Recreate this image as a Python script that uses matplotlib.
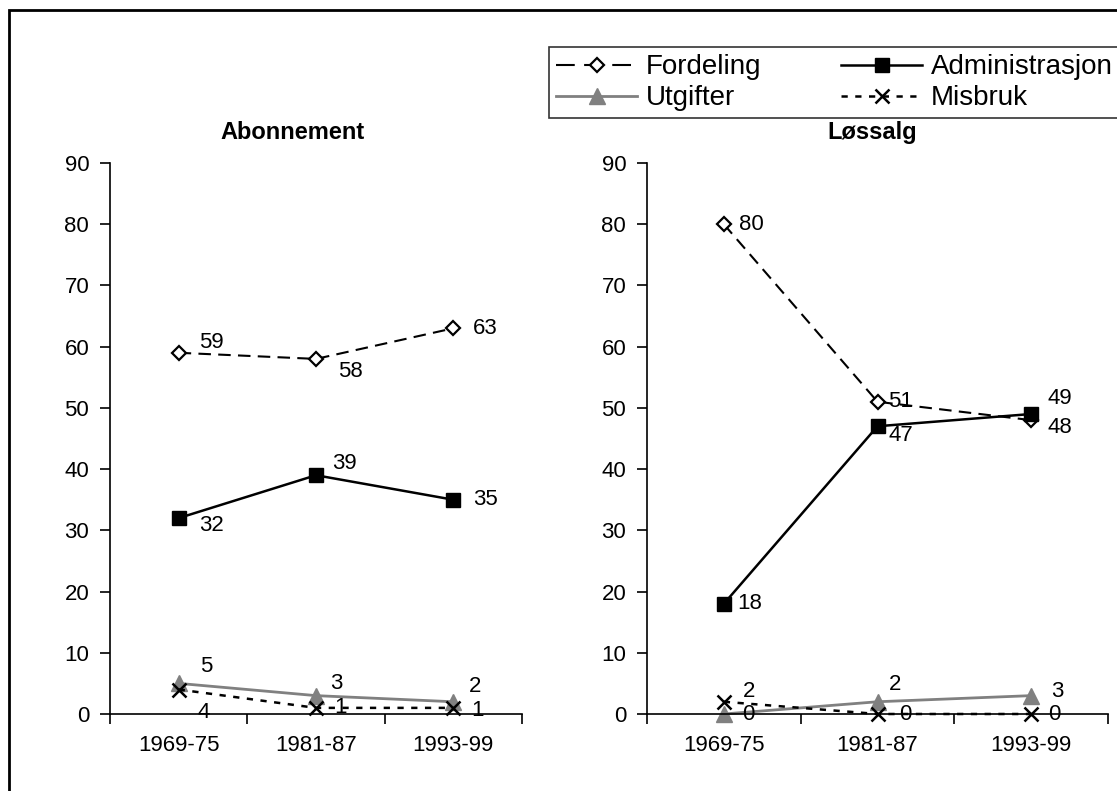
import matplotlib.pyplot as plt
from matplotlib.patches import Rectangle
from matplotlib.lines import Line2D

plt.rcParams['font.family'] = ['Liberation Sans', 'DejaVu Sans']

periods = ['1969-75', '1981-87', '1993-99']
series = ['Fordeling', 'Administrasjon', 'Utgifter', 'Misbruk']

abonnement = {
    'Fordeling': [59, 58, 63],
    'Administrasjon': [32, 39, 35],
    'Utgifter': [5, 3, 2],
    'Misbruk': [4, 1, 1],
}
lossalg = {
    'Fordeling': [80, 51, 48],
    'Administrasjon': [18, 47, 49],
    'Utgifter': [0, 2, 3],
    'Misbruk': [2, 0, 0],
}

# label offsets in pixels (dx, dy)
offs_ab = {
    'Fordeling': [(33, 10), (34, -13), (32, 0)],
    'Administrasjon': [(33, -7), (28, 12), (32, 0)],
    'Utgifter': [(28, 17), (20, 12), (22, 15)],
    'Misbruk': [(25, -23), (24, 0), (24, -3)],
}
offs_lo = {
    'Fordeling': [(28, 0), (23, 0), (29, -7)],
    'Administrasjon': [(26, 0), (23, -9), (29, 16)],
    'Utgifter': [(24, 0), (18, 17), (26, 4)],
    'Misbruk': [(25, 10), (28, 0), (23, 0)],
}

styles = {
    'Fordeling': dict(color='black', ls=(0, (6, 3.5)), lw=1.5, marker='D',
                      ms=7, mfc='white', mec='black', mew=1.6),
    'Administrasjon': dict(color='black', ls='-', lw=1.8, marker='s',
                           ms=10.5, mfc='black', mec='black'),
    'Utgifter': dict(color='#808080', ls='-', lw=2, marker='^',
                     ms=11, mfc='#808080', mec='#808080'),
    'Misbruk': dict(color='black', ls=(0, (2.5, 3)), lw=1.8, marker='x',
                    ms=10, mew=1.8),
}

fig = plt.figure(figsize=(11.17, 7.91), dpi=100)
fig.patches.append(Rectangle((9 / 1117, -0.05), 1.2, (791 - 10) / 791 + 0.05,
                             transform=fig.transFigure, fill=False,
                             ec='black', lw=2))

ax1 = fig.add_axes([110 / 1117, 1 - 714 / 791, 412 / 1117, 551 / 791])
ax2 = fig.add_axes([647 / 1117, 1 - 714 / 791, 461 / 1117, 551 / 791])


def draw(ax, data, offs, title, tx):
    x = range(len(periods))
    for s in series:
        ax.plot(x, data[s], label=s, **styles[s], clip_on=False)
        for i, v in enumerate(data[s]):
            dx, dy = offs[s][i]
            ax.annotate(str(v), (i, v), xytext=(dx, dy),
                        textcoords='offset pixels', ha='center',
                        va='center', fontsize=16)
    ax.set_xlim(-0.5, 2.5)
    ax.set_ylim(0, 90)
    ax.set_yticks(range(0, 91, 10))
    ax.set_xticks(x)
    ax.set_xticklabels(periods)
    ax.set_xticks([-0.5, 0.5, 1.5, 2.5], minor=True)
    ax.tick_params(axis='x', which='major', length=0, pad=15, labelsize=16)
    ax.tick_params(axis='x', which='minor', length=7, width=1.2)
    ax.tick_params(axis='y', length=7, width=1.2, labelsize=16, pad=8)
    for sp in ['top', 'right']:
        ax.spines[sp].set_visible(False)
    for sp in ['left', 'bottom']:
        ax.spines[sp].set_linewidth(1.2)
    ax.set_title(title, fontsize=17, fontweight='bold', pad=17, x=tx)


draw(ax1, abonnement, offs_ab, 'Abonnement', 0.442)
draw(ax2, lossalg, offs_lo, 'Løssalg', 0.488)

# ncol=2 fills column-wise: reorder so rows read Fordeling/Administrasjon, Utgifter/Misbruk
order = ['Fordeling', 'Utgifter', 'Administrasjon', 'Misbruk']
handles = []
for s in order:
    st = dict(styles[s])
    if s == 'Fordeling':
        st['ls'] = (0, (9, 4.5))
    handles.append(Line2D([], [], **st))
leg = fig.legend(handles, order, loc='upper left',
                 bbox_to_anchor=(549 / 1117, 1 - 47 / 791), ncol=2,
                 fontsize=20, frameon=True, fancybox=False,
                 handlelength=2.9, handletextpad=0.33, columnspacing=2.88,
                 borderpad=0.26, labelspacing=0.18, borderaxespad=0)
leg.get_frame().set_edgecolor('black')
leg.get_frame().set_linewidth(1.2)

fig.savefig('out.png', dpi=100)
